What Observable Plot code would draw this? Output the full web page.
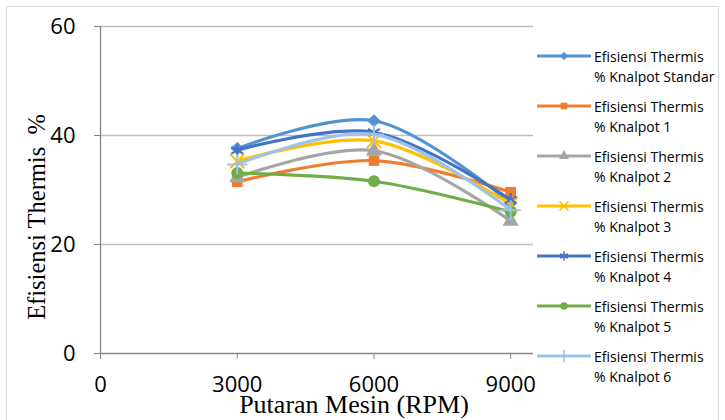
<!DOCTYPE html>
<html>
<head>
<meta charset="utf-8">
<script src="https://cdn.jsdelivr.net/npm/d3@7"></script>
<script src="https://cdn.jsdelivr.net/npm/@observablehq/plot@0.6"></script>
<style>
  html, body { margin: 0; padding: 0; background: #fff; }
  #chart { width: 725px; height: 420px; }
</style>
</head>
<body>
<div id="chart"></div>
<script>
// ---- data ----
const rpm = [3000, 6000, 9000];
const seriesNames = [
  "Efisiensi Thermis % Knalpot Standar",
  "Efisiensi Thermis % Knalpot 1",
  "Efisiensi Thermis % Knalpot 2",
  "Efisiensi Thermis % Knalpot 3",
  "Efisiensi Thermis % Knalpot 4",
  "Efisiensi Thermis % Knalpot 5",
  "Efisiensi Thermis % Knalpot 6"
];
const knalpotStandar = [37.6, 42.7, 27.6];
const knalpot1 = [31.5, 35.4, 29.6];
const knalpot2 = [32.3, 37.2, 24.3];
const knalpot3 = [35.3, 39.0, 27.4];
const knalpot4 = [37.3, 40.6, 28.2];
const knalpot5 = [33.1, 31.6, 26.0];
const knalpot6 = [34.7, 40.2, 26.3];
const xTicks = [0, 3000, 6000, 9000];
const yTicks = [0, 20, 40, 60];
const xTitle = "Putaran Mesin (RPM)";
const yTitle = "Efisiensi Thermis  %";

// ---- styling ----
const colors = ["#5393D0", "#ED7D31", "#A5A5A5", "#FFC000", "#4472C4", "#70AD47", "#9DC3E6"];
const symbols = ["diamond2", "square", "triangle", "times", "asterisk", "circle", "plus"];
const filled = [true, true, true, false, false, true, false];
const d3Symbols = [d3.symbolDiamond2, d3.symbolSquare, d3.symbolTriangle, d3.symbolTimes, d3.symbolAsterisk, d3.symbolCircle, d3.symbolPlus];

const allValues = [knalpotStandar, knalpot1, knalpot2, knalpot3, knalpot4, knalpot5, knalpot6];
const rows = [];
allValues.forEach((vals, si) => vals.forEach((v, i) => rows.push({series: seriesNames[si], idx: si, rpm: rpm[i], value: v})));

const marks = [
  Plot.gridY(yTicks.filter(d => d > 0), {stroke: "#BFBFBF", strokeOpacity: 1, strokeWidth: 1.3}),
  Plot.ruleY([0], {stroke: "#868686", strokeWidth: 1.3}),
  Plot.ruleX([0], {stroke: "#868686", strokeWidth: 1.3}),
  Plot.axisY({ticks: yTicks, tickSize: 6, tickPadding: 19, label: null, stroke: "#868686", fontSize: 22}),
  Plot.axisX({ticks: xTicks, tickSize: 6, tickPadding: 17, label: null, stroke: "#868686", fontSize: 22, tickFormat: d => String(d)})
];

seriesNames.forEach((name, si) => {
  const data = rows.filter(r => r.idx === si);
  marks.push(Plot.line(data, {x: "rpm", y: "value", stroke: colors[si], strokeWidth: 3.2, curve: "catmull-rom"}));
  if (filled[si]) {
    marks.push(Plot.dot(data, {x: "rpm", y: "value", symbol: () => symbols[si], fill: colors[si], stroke: "none", r: 6}));
  } else {
    marks.push(Plot.dot(data, {x: "rpm", y: "value", symbol: () => symbols[si], fill: "none", stroke: colors[si], strokeWidth: 2, r: 6.5}));
  }
});

const plot = Plot.plot({
  width: 725,
  height: 420,
  marginLeft: 100,
  marginRight: 192,
  marginTop: 26,
  marginBottom: 67,
  style: {fontFamily: "'Open Sans', sans-serif", fontSize: "22px", color: "#000", background: "#fff", overflow: "visible"},
  x: {domain: [0, 9500]},
  y: {domain: [0, 60]},
  symbol: {type: "identity"},
  marks
});

document.getElementById("chart").appendChild(plot);

// ---- chart border, axis titles and legend ----
const svg = d3.select(plot);
svg.insert("rect", ":first-child")
  .attr("x", 6.5).attr("y", 6.5).attr("width", 712).attr("height", 430)
  .attr("fill", "none").attr("stroke", "#D9D9D9");

svg.append("text")
  .attr("transform", "translate(45,217) rotate(-90)")
  .attr("text-anchor", "middle")
  .attr("font-family", "'Liberation Serif', 'Times New Roman', serif")
  .attr("font-size", 24.5)
  .attr("fill", "#000")
  .attr("xml:space", "preserve")
  .style("white-space", "pre")
  .text(yTitle);

svg.append("text")
  .attr("x", 354).attr("y", 413)
  .attr("text-anchor", "middle")
  .attr("font-family", "'Liberation Serif', 'Times New Roman', serif")
  .attr("font-size", 26)
  .attr("fill", "#000")
  .text(xTitle);

const legend = svg.append("g")
  .attr("font-family", "'Open Sans', sans-serif")
  .attr("font-size", 14)
  .attr("text-anchor", "start");
seriesNames.forEach((name, si) => {
  const y0 = 56 + 50 * si;
  const g = legend.append("g");
  g.append("line").attr("x1", 537).attr("x2", 591).attr("y1", y0).attr("y2", y0)
    .attr("stroke", colors[si]).attr("stroke-width", 3.2);
  const sym = d3.symbol().type(d3Symbols[si]).size(filled[si] ? 45 : 55);
  g.append("path").attr("d", sym()).attr("transform", `translate(564,${y0})`)
    .attr("fill", filled[si] ? colors[si] : "none")
    .attr("stroke", filled[si] ? "none" : colors[si]).attr("stroke-width", 1.6);
  const parts = name.split(" % ");
  const t = g.append("text").attr("fill", "#000").attr("text-anchor", "start");
  t.append("tspan").attr("x", 594).attr("y", y0 + 6).text(parts[0]);
  t.append("tspan").attr("x", 594).attr("y", y0 + 26).text("% " + parts[1]);
});
</script>
</body>
</html>
